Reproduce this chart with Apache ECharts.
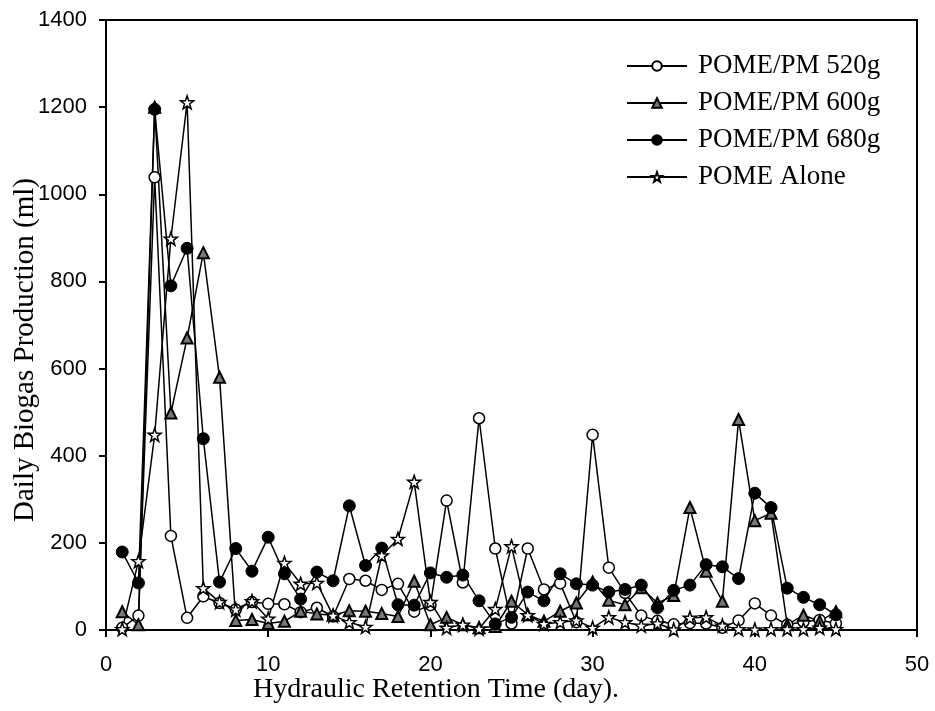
<!DOCTYPE html>
<html>
<head>
<meta charset="utf-8">
<script src="https://cdn.jsdelivr.net/npm/echarts@6/dist/echarts.min.js"></script>
<style>
html,body{margin:0;padding:0;background:#fff;}
#c{width:935px;height:711px;}
</style>
</head>
<body>
<div id="c"></div>
<script>
const days = [1,2,3,4,5,6,7,8,9,10,11,12,13,14,15,16,17,18,19,20,21,22,23,24,25,26,27,28,29,30,31,32,33,34,35,36,37,38,39,40,41,42,43,44,45];
const pm520 = [5,33,1039,216,28,77,62,47,64,60,59,41,51,31,117,113,92,106,42,57,297,109,486,187,15,187,93,107,18,448,143,85,33,21,13,16,15,5,22,61,33,12,19,23,15];
const pm600 = [42,12,1200,498,670,866,580,22,24,15,20,43,37,34,44,43,38,31,112,12,29,12,5,8,66,35,20,43,62,110,68,58,97,62,79,281,135,66,483,251,268,12,34,20,42];
const pm680 = [179,108,1195,790,876,439,110,187,135,213,129,71,133,113,285,148,188,58,57,131,121,126,67,14,29,87,67,129,106,103,87,93,103,51,91,103,150,145,118,314,281,96,75,58,35];
const pomeAlone = [2,158,448,898,1211,96,64,47,66,26,154,106,108,33,18,7,171,209,340,64,5,12,3,48,192,34,14,18,22,5,29,18,10,15,1,28,29,10,2,1,2,2,2,5,2];
const seriesNames = ['POME/PM 520g','POME/PM 600g','POME/PM 680g','POME Alone'];
const xTicks = {min:0, max:50, interval:10};
const yTicks = {min:0, max:1400, interval:200};

const starPath = 'path://M50 0 L61.76 33.82 L97.55 34.55 L69.02 56.18 L79.39 90.45 L50 70 L20.61 90.45 L30.98 56.18 L2.45 34.55 L38.24 33.82 Z';

function pairs(vals){ return days.map((d,i)=>[d, vals[i]]); }

const chart = echarts.init(document.getElementById('c'), null, {renderer:'canvas'});
const serif = '"Liberation Serif","Times New Roman",serif';
const sans = '"Liberation Sans",Arial,sans-serif';

function mk(name, vals, symbol, size, fill, bw){
  return {
    name: name, type:'line', data: pairs(vals),
    symbol: symbol, symbolSize: size, showAllSymbol: true,
    lineStyle:{color:'#000', width:1.5},
    itemStyle:{color:fill, borderColor:'#000', borderWidth:bw},
    emphasis:{disabled:true}, animation:false
  };
}

chart.setOption({
  animation:false,
  backgroundColor:'#fff',
  grid:{left:106, right:18, top:20, bottom:81, show:true, borderColor:'#000', borderWidth:2, backgroundColor:'transparent'},
  xAxis:{
    type:'value', min:xTicks.min, max:xTicks.max, interval:xTicks.interval,
    axisLine:{show:true, lineStyle:{color:'#000', width:2}},
    axisTick:{show:true, inside:false, length:7, lineStyle:{color:'#000', width:2}},
    axisLabel:{color:'#000', fontFamily:sans, fontSize:22, margin:24, formatter:(v)=>String(v)},
    splitLine:{show:false}
  },
  yAxis:{
    type:'value', min:yTicks.min, max:yTicks.max, interval:yTicks.interval,
    axisLine:{show:true, lineStyle:{color:'#000', width:2}},
    axisTick:{show:true, inside:false, length:7, lineStyle:{color:'#000', width:2}},
    axisLabel:{color:'#000', fontFamily:sans, fontSize:22, margin:19, formatter:(v)=>String(v)},
    splitLine:{show:false}
  },
  legend:{
    orient:'vertical', left:621, top:46,
    itemWidth:60, itemHeight:12, itemGap:7,
    data: seriesNames,
    textStyle:{fontFamily:serif, fontSize:27, color:'#000', lineHeight:30, padding:[0,0,0,6]},
    selectedMode:false
  },
  graphic:[
    {type:'text', x:436, y:690, style:{text:'Hydraulic Retention Time (day).', font:'28px ' + serif, fill:'#000', textAlign:'center', textVerticalAlign:'middle', align:'center', verticalAlign:'middle'}},
    {type:'text', x:25, y:350, rotation:Math.PI/2, style:{text:'Daily Biogas Production (ml)', font:'29px ' + serif, fill:'#000', textAlign:'center', textVerticalAlign:'middle', align:'center', verticalAlign:'middle'}}
  ],
  series:[
    mk(seriesNames[0], pm520, 'circle', 11, '#fff', 1.5),
    mk(seriesNames[1], pm600, 'triangle', 11, '#777', 2),
    mk(seriesNames[2], pm680, 'circle', 12, '#000', 1),
    mk(seriesNames[3], pomeAlone, starPath, 13, '#fff', 1.5)
  ]
});
</script>
</body>
</html>
